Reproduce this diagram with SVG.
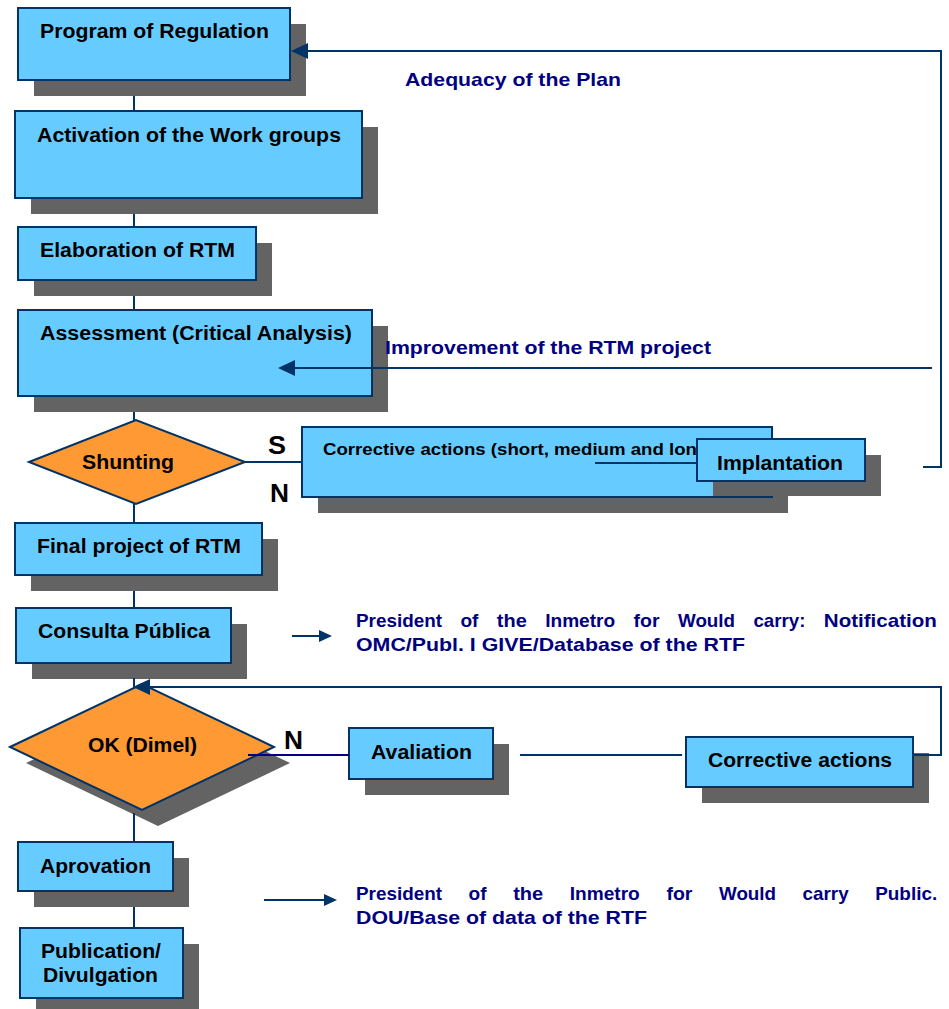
<svg xmlns="http://www.w3.org/2000/svg" width="949" height="1009" viewBox="0 0 949 1009">
  <style>
    .box { fill: #66CCFF; stroke: #003366; stroke-width: 2; }
    .shadow { fill: #636363; }
    .dia { fill: #FF9933; stroke: #003366; stroke-width: 2; }
    .lbl { font-family: "Liberation Sans", Arial, sans-serif; font-weight: bold; font-size: 20px; fill: #000000; }
    .small { font-size: 17px; }
    .big { font-size: 25px; }
    .note { font-family: "Liberation Sans", Arial, sans-serif; font-weight: bold; font-size: 19px; fill: #000080; }
    .wire { stroke: #003366; stroke-width: 2; fill: none; }
    .navy { stroke: #000080; }
  </style>
  <defs>
    <marker id="head" markerUnits="userSpaceOnUse" markerWidth="18" markerHeight="18" refX="15" refY="8" orient="auto">
      <path d="M0,0 L17,8 L0,16 Z" fill="#003366"/>
    </marker>
    <marker id="headSmall" markerUnits="userSpaceOnUse" markerWidth="14" markerHeight="14" refX="11" refY="6" orient="auto">
      <path d="M0,0 L13,6 L0,12 Z" fill="#003366"/>
    </marker>
  </defs>

  <rect width="949" height="1009" fill="#FFFFFF"/>

  <!-- process steps -->
  <g id="n-program">
    <rect class="shadow" x="34" y="24" width="272" height="72"/>
    <rect class="box" x="18" y="8" width="272" height="72"/>
    <text class="lbl" x="40" y="38" textLength="229" lengthAdjust="spacingAndGlyphs">Program of Regulation</text>
  </g>
  <g id="n-activation">
    <rect class="shadow" x="31" y="127" width="347" height="87"/>
    <rect class="box" x="15" y="111" width="347" height="87"/>
    <text class="lbl" x="37" y="142" textLength="304" lengthAdjust="spacingAndGlyphs">Activation of the Work groups</text>
  </g>
  <g id="n-elaboration">
    <rect class="shadow" x="34" y="243" width="238" height="53"/>
    <rect class="box" x="18" y="227" width="238" height="53"/>
    <text class="lbl" x="40" y="257" textLength="195" lengthAdjust="spacingAndGlyphs">Elaboration of RTM</text>
  </g>
  <g id="n-assessment">
    <rect class="shadow" x="34" y="326" width="354" height="86"/>
    <rect class="box" x="18" y="310" width="354" height="86"/>
    <text class="lbl" x="40" y="340" textLength="312" lengthAdjust="spacingAndGlyphs">Assessment (Critical Analysis)</text>
  </g>
  <g id="n-shunting">
    <polygon class="dia" points="29,462 136,420 245,462 136,504"/>
    <text class="lbl" x="82" y="469" textLength="92" lengthAdjust="spacingAndGlyphs">Shunting</text>
  </g>
  <g id="n-corrective-plan">
    <rect class="shadow" x="318" y="443" width="470" height="70"/>
    <rect class="box" x="302" y="427" width="470" height="70"/>
    <text class="lbl small" x="323" y="455" textLength="374" lengthAdjust="spacingAndGlyphs">Corrective actions (short, medium and lon</text>
  </g>
  <g id="n-implantation">
    <rect class="shadow" x="713" y="455" width="168" height="41"/>
    <rect class="box" x="697" y="439" width="168" height="42"/>
    <text class="lbl" x="717" y="470" textLength="126" lengthAdjust="spacingAndGlyphs">Implantation</text>
  </g>
  <g id="n-final">
    <rect class="shadow" x="31" y="539" width="247" height="52"/>
    <rect class="box" x="15" y="523" width="247" height="52"/>
    <text class="lbl" x="37" y="553" textLength="204" lengthAdjust="spacingAndGlyphs">Final project of RTM</text>
  </g>
  <g id="n-consulta">
    <rect class="shadow" x="32" y="624" width="215" height="55"/>
    <rect class="box" x="16" y="608" width="215" height="55"/>
    <text class="lbl" x="38" y="638" textLength="172" lengthAdjust="spacingAndGlyphs">Consulta Pública</text>
  </g>
  <g id="n-ok">
    <polygon class="shadow" points="26,763 158,700 290,763 158,826"/>
    <polygon class="dia" points="10,747 142,684 274,747 142,810"/>
    <text class="lbl" x="88" y="752" textLength="109" lengthAdjust="spacingAndGlyphs">OK (Dimel)</text>
  </g>
  <g id="n-avaliation">
    <rect class="shadow" x="365" y="744" width="144" height="51"/>
    <rect class="box" x="349" y="728" width="144" height="51"/>
    <text class="lbl" x="371" y="759" textLength="101" lengthAdjust="spacingAndGlyphs">Avaliation</text>
  </g>
  <g id="n-corrective">
    <rect class="shadow" x="702" y="753" width="227" height="50"/>
    <rect class="box" x="686" y="737" width="227" height="50"/>
    <text class="lbl" x="708" y="767" textLength="184" lengthAdjust="spacingAndGlyphs">Corrective actions</text>
  </g>
  <g id="n-aprovation">
    <rect class="shadow" x="34" y="858" width="155" height="49"/>
    <rect class="box" x="18" y="842" width="155" height="49"/>
    <text class="lbl" x="40" y="873" textLength="111" lengthAdjust="spacingAndGlyphs">Aprovation</text>
  </g>
  <g id="n-publication">
    <rect class="shadow" x="36" y="944" width="163" height="70"/>
    <rect class="box" x="20" y="928" width="163" height="70"/>
    <text class="lbl" x="41" y="958" textLength="120" lengthAdjust="spacingAndGlyphs">Publication/</text>
    <text class="lbl" x="43" y="982" textLength="115" lengthAdjust="spacingAndGlyphs">Divulgation</text>
  </g>

  <!-- connectors -->
  <g id="connectors">
    <!-- main spine -->
    <path class="wire" d="M134 96 V111 M134 214 V227 M134 296 V310 M134 412 V421 M134 504 V523 M134 591 V608 M134 678 V689 M134 813 V842 M134 907 V928"/>
    <!-- adequacy feedback to the program -->
    <path class="wire" d="M923 467 H941 V51 H293" marker-end="url(#head)"/>
    <!-- improvement feedback to the assessment -->
    <path class="wire" d="M932 368 H280" marker-end="url(#head)"/>
    <!-- shunting branches -->
    <path class="wire" d="M245 462 H302"/>
    <path class="wire" d="M595 463 H697"/>
    <!-- OK (Dimel) rejection loop -->
    <path class="wire navy" d="M248 755 H349"/>
    <path class="wire" d="M520 755 H682"/>
    <path class="wire" d="M913 755 H941 V687 H135" marker-end="url(#head)"/>
    <!-- outgoing notices -->
    <path class="wire" d="M292 636 H330" marker-end="url(#headSmall)"/>
    <path class="wire" d="M264 900 H335" marker-end="url(#headSmall)"/>
  </g>

  <!-- branch labels and notes -->
  <g id="labels">
    <text class="lbl big" x="268" y="454" textLength="18" lengthAdjust="spacingAndGlyphs">S</text>
    <text class="lbl big" x="270" y="502" textLength="19" lengthAdjust="spacingAndGlyphs">N</text>
    <text class="lbl big" x="284" y="749" textLength="19" lengthAdjust="spacingAndGlyphs">N</text>
    <text class="note" x="405" y="86" textLength="216" lengthAdjust="spacingAndGlyphs">Adequacy of the Plan</text>
    <text class="note" x="385" y="354" textLength="326" lengthAdjust="spacingAndGlyphs">Improvement of the RTM project</text>
    <!-- justified notice, first paragraph -->
    <text class="note" y="627">
      <tspan x="356" textLength="86" lengthAdjust="spacingAndGlyphs">President</tspan>
      <tspan x="460.4" textLength="18" lengthAdjust="spacingAndGlyphs">of</tspan>
      <tspan x="496.8" textLength="30" lengthAdjust="spacingAndGlyphs">the</tspan>
      <tspan x="545.2" textLength="70" lengthAdjust="spacingAndGlyphs">Inmetro</tspan>
      <tspan x="633.6" textLength="26" lengthAdjust="spacingAndGlyphs">for</tspan>
      <tspan x="678" textLength="57" lengthAdjust="spacingAndGlyphs">Would</tspan>
      <tspan x="753.4" textLength="52" lengthAdjust="spacingAndGlyphs">carry:</tspan>
      <tspan x="823.8" textLength="113" lengthAdjust="spacingAndGlyphs">Notification</tspan>
    </text>
    <text class="note" x="356" y="651" textLength="389" lengthAdjust="spacingAndGlyphs">OMC/Publ. I GIVE/Database of the RTF</text>
    <!-- justified notice, second paragraph -->
    <text class="note" y="900">
      <tspan x="356" textLength="86" lengthAdjust="spacingAndGlyphs">President</tspan>
      <tspan x="468.6" textLength="18" lengthAdjust="spacingAndGlyphs">of</tspan>
      <tspan x="513.2" textLength="30" lengthAdjust="spacingAndGlyphs">the</tspan>
      <tspan x="569.8" textLength="70" lengthAdjust="spacingAndGlyphs">Inmetro</tspan>
      <tspan x="666.4" textLength="26" lengthAdjust="spacingAndGlyphs">for</tspan>
      <tspan x="719" textLength="57" lengthAdjust="spacingAndGlyphs">Would</tspan>
      <tspan x="802.6" textLength="46" lengthAdjust="spacingAndGlyphs">carry</tspan>
      <tspan x="875.2" textLength="62" lengthAdjust="spacingAndGlyphs">Public.</tspan>
    </text>
    <text class="note" x="356" y="924" textLength="291" lengthAdjust="spacingAndGlyphs">DOU/Base of data of the RTF</text>
  </g>
</svg>
